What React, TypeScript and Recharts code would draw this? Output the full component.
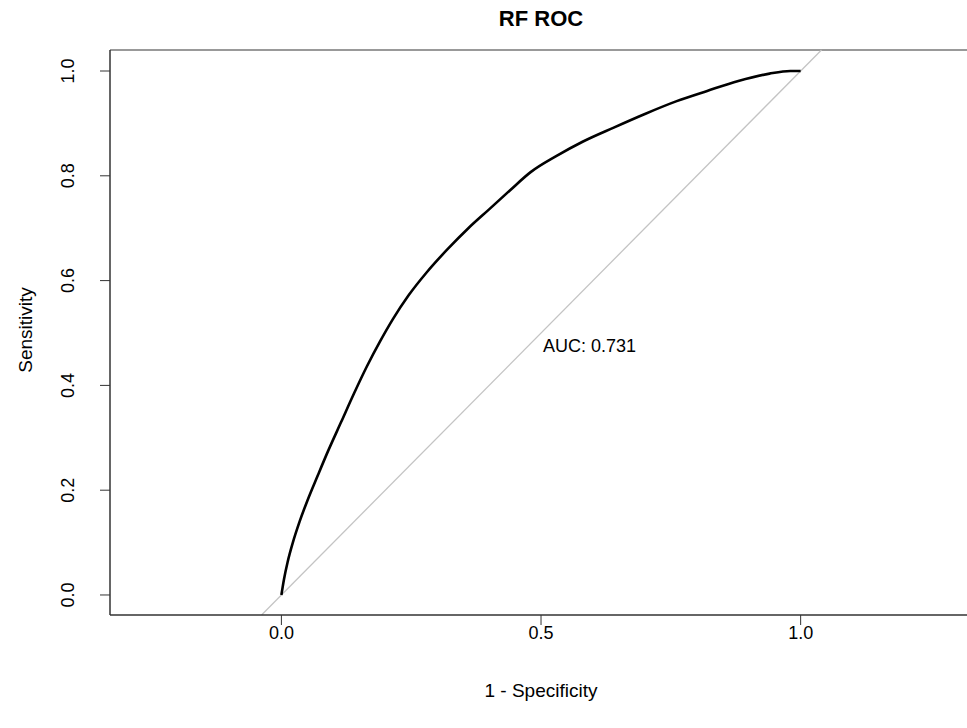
import React from "react"
import { ComposedChart, Line, XAxis, YAxis, ReferenceLine, ReferenceDot } from "recharts"

// ROC curve points (1 - specificity, sensitivity)
const fpr = [0, 0.005, 0.012, 0.022, 0.035, 0.05, 0.07, 0.09, 0.115, 0.14, 0.165, 0.19, 0.215, 0.245, 0.28, 0.32, 0.36, 0.4, 0.44, 0.48, 0.53, 0.58, 0.64, 0.7, 0.76, 0.82, 0.88, 0.94, 0.98, 1]
const tpr = [0, 0.03, 0.063, 0.1, 0.14, 0.18, 0.228, 0.275, 0.33, 0.385, 0.437, 0.484, 0.527, 0.572, 0.616, 0.66, 0.7, 0.736, 0.772, 0.807, 0.838, 0.865, 0.892, 0.918, 0.942, 0.962, 0.981, 0.995, 1, 1]

const xTicks = [0, 0.5, 1]
const yTicks = [0, 0.2, 0.4, 0.6, 0.8, 1]
const xDomain = [-0.3301, 1.33]
const yDomain = [-0.0382, 1.0401]
const aucText = "AUC: 0.731"

const FONT = "'Liberation Sans', Arial, sans-serif"

const data = fpr.map((x, i) => ({ fpr: x, tpr: tpr[i] }))

function XTick({ x, payload }: any) {
  return (
    <text x={x} y={633} textAnchor="middle" dominantBaseline="central" fontSize={18} fontFamily={FONT} fill="#000">
      {payload.value.toFixed(1)}
    </text>
  )
}

function YTick({ y, payload }: any) {
  return (
    <text x={68} y={y} transform={`rotate(-90, 68, ${y})`} textAnchor="middle" dominantBaseline="central" fontSize={18} fontFamily={FONT} fill="#000">
      {payload.value.toFixed(1)}
    </text>
  )
}

export default function App() {
  return (
    <div style={{ position: "absolute", left: 0, top: 0, width: 967, height: 728, overflow: "hidden", background: "#fff" }}>
      <div style={{ position: "absolute", left: 0, top: 6, width: 1082, textAlign: "center", fontFamily: FONT, fontWeight: "bold", fontSize: 22 }}>
        RF ROC
      </div>
      <ComposedChart width={972} height={728} data={data} margin={{ top: 50, right: 0, left: 0, bottom: 0 }}>
        <XAxis
          type="number"
          dataKey="fpr"
          domain={xDomain}
          allowDataOverflow
          ticks={xTicks}
          height={113}
          tick={<XTick />}
          tickSize={10}
          tickLine={{ stroke: "#333" }}
          axisLine={{ stroke: "#333", strokeWidth: 1.5 }}
          label={{
            content: () => (
              <text x={541} y={690} textAnchor="middle" dominantBaseline="central" fontSize={19} fontFamily={FONT} fill="#000">
                1 - Specificity
              </text>
            ),
          }}
        />
        <YAxis
          type="number"
          domain={yDomain}
          allowDataOverflow
          ticks={yTicks}
          width={110}
          tick={<YTick />}
          tickSize={10}
          tickLine={{ stroke: "#333" }}
          axisLine={{ stroke: "#333", strokeWidth: 1.5 }}
          label={{
            content: () => (
              <text x={25} y={330} transform="rotate(-90, 25, 330)" textAnchor="middle" dominantBaseline="central" fontSize={19} fontFamily={FONT} fill="#000">
                Sensitivity
              </text>
            ),
          }}
        />
        <ReferenceLine y={yDomain[1]} stroke="#999" strokeWidth={2} />
        <ReferenceLine
          segment={[
            { x: yDomain[0], y: yDomain[0] },
            { x: yDomain[1], y: yDomain[1] },
          ]}
          stroke="#c4c4c4"
          strokeWidth={1.3}
        />
        <Line type="monotone" dataKey="tpr" stroke="#000" strokeWidth={2.6} dot={false} isAnimationActive={false} />
        <ReferenceDot
          x={0.5}
          y={0.475}
          r={0}
          fill="none"
          stroke="none"
          label={{
            content: (p: any) => (
              <text x={p.viewBox.x + 2} y={p.viewBox.y} textAnchor="start" dominantBaseline="central" fontSize={18} fontFamily={FONT} fill="#000">
                {aucText}
              </text>
            ),
          }}
        />
      </ComposedChart>
    </div>
  )
}
